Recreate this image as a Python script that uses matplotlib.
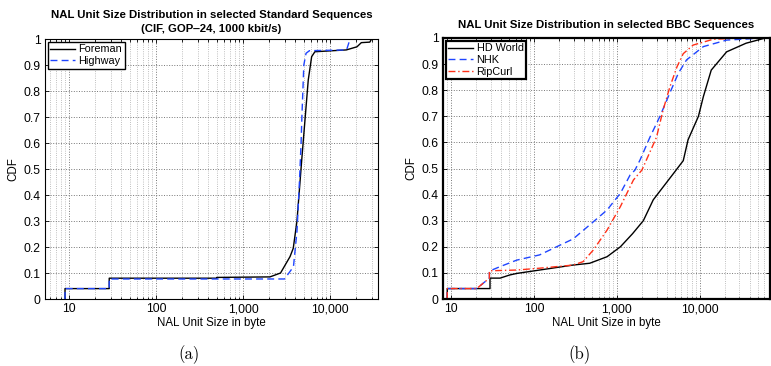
import matplotlib
matplotlib.use("Agg")
import matplotlib.pyplot as plt
from matplotlib.ticker import FixedLocator, FixedFormatter, LogLocator, NullFormatter

plt.rcParams['font.family'] = ['Liberation Sans', 'DejaVu Sans']

# ---- data (a) standard sequences ----
foreman_x = [9, 9, 29, 29, 500, 500, 2040, 2700, 3470, 3780, 4170, 4730, 5620, 6150, 6700, 15400, 20400, 22900, 28700, 30000, 35600]
foreman_y = [0, 0.04, 0.04, 0.08, 0.08, 0.083, 0.085, 0.10, 0.163, 0.195, 0.30, 0.535, 0.842, 0.932, 0.951, 0.958, 0.97, 0.986, 0.988, 1.0, 1.0]
highway_x = [9, 9, 29, 29, 3000, 3800, 4170, 4450, 4650, 4750, 5000, 5300, 5800, 15500, 17000, 35600]
highway_y = [0, 0.04, 0.04, 0.077, 0.077, 0.124, 0.26, 0.45, 0.60, 0.70, 0.90, 0.945, 0.955, 0.958, 1.0, 1.0]

# ---- data (b) BBC sequences ----
hdworld_x = [9, 9, 29.5, 29.5, 39, 51, 62, 117, 295, 470, 760, 1100, 1540, 2080, 2740, 4780, 6300, 7200, 9600, 11000, 13700, 21000, 36000, 60000, 70000]
hdworld_y = [0, 0.04, 0.04, 0.08, 0.08, 0.092, 0.098, 0.111, 0.13, 0.137, 0.162, 0.20, 0.25, 0.30, 0.38, 0.48, 0.53, 0.61, 0.70, 0.775, 0.877, 0.947, 0.98, 0.999, 1.0]
nhk_x = [9, 9, 20.4, 29, 29, 39, 62, 117, 187, 296, 470, 760, 1100, 1440, 1650, 1900, 2500, 3300, 4350, 5500, 6900, 11000, 21000, 52000, 70000]
nhk_y = [0, 0.04, 0.04, 0.08, 0.107, 0.124, 0.149, 0.169, 0.20, 0.23, 0.284, 0.341, 0.405, 0.475, 0.494, 0.533, 0.62, 0.70, 0.79, 0.865, 0.916, 0.967, 0.992, 0.999, 1.0]
ripcurl_x = [9, 9, 20.4, 29, 29, 62, 117, 296, 390, 520, 760, 1100, 1580, 2000, 3000, 3600, 4350, 5300, 6300, 8300, 14400, 30000, 70000]
ripcurl_y = [0, 0.04, 0.04, 0.08, 0.108, 0.111, 0.118, 0.13, 0.143, 0.188, 0.264, 0.354, 0.456, 0.494, 0.62, 0.724, 0.813, 0.89, 0.94, 0.973, 0.995, 1.0, 1.0]

xtick_vals = [10, 100, 1000, 10000]
xtick_labels = ["10", "100", "1,000", "10,000"]
ytick_vals = [0, 0.1, 0.2, 0.3, 0.4, 0.5, 0.6, 0.7, 0.8, 0.9, 1.0]
ytick_labels = ["0", "0.1", "0.2", "0.3", "0.4", "0.5", "0.6", "0.7", "0.8", "0.9", "1"]

BLUE = '#1f45ff'
RED = '#ff3018'

W, H = 771, 366
fig = plt.figure(figsize=(W / 100, H / 100), dpi=100)

def px_axes(l, t, r, b):
    return fig.add_axes([l / W, 1 - b / H, (r - l) / W, (b - t) / H])

ax1 = px_axes(45, 39, 378, 299)
ax2 = px_axes(443, 38, 770, 299)

def style(ax, xlim, spine_lw):
    ax.set_xscale('log')
    ax.set_xlim(*xlim)
    ax.set_ylim(0, 1)
    ax.xaxis.set_major_locator(FixedLocator(xtick_vals))
    ax.xaxis.set_major_formatter(FixedFormatter(xtick_labels))
    ax.xaxis.set_minor_locator(LogLocator(base=10, subs=range(2, 10), numticks=20))
    ax.xaxis.set_minor_formatter(NullFormatter())
    ax.yaxis.set_major_locator(FixedLocator(ytick_vals))
    ax.yaxis.set_major_formatter(FixedFormatter(ytick_labels))
    ax.tick_params(which='both', direction='in', top=True, right=True, labelsize=8.7, width=0.6)
    ax.tick_params(which='major', length=3, pad=3)
    ax.tick_params(which='minor', length=1.8)
    ax.grid(True, which='major', linestyle=':', color='#777777', linewidth=0.7)
    ax.grid(True, which='minor', axis='x', linestyle=':', color='#aaaaaa', linewidth=0.6)
    for s in ax.spines.values():
        s.set_linewidth(spine_lw)
    ax.set_xlabel('NAL Unit Size in byte', fontsize=8.3, labelpad=1)
    ax.set_ylabel('CDF', fontsize=8.3, labelpad=3)

style(ax1, (5.3, 35600), 0.8)
style(ax2, (8, 70000), 1.6)

leg_kw = dict(loc='upper left', fontsize=7.8, fancybox=False, framealpha=1, edgecolor='black',
              handlelength=2.3, handletextpad=0.3, borderpad=0.25, labelspacing=0.15,
              borderaxespad=0.25)

ax1.plot(foreman_x, foreman_y, color='black', lw=1.0, label='Foreman')
ax1.plot(highway_x, highway_y, color=BLUE, lw=1.0, ls=(0, (5, 3)), label='Highway')
ax1.set_title('NAL Unit Size Distribution in selected Standard Sequences\n(CIF, GOP\u201224, 1000 kbit/s)',
              fontsize=8.2, fontweight='bold', pad=5, linespacing=1.45)
leg1 = ax1.legend(**leg_kw)
leg1.get_frame().set_linewidth(1.0)

ax2.plot(hdworld_x, hdworld_y, color='black', lw=1.0, label='HD World')
ax2.plot(nhk_x, nhk_y, color=BLUE, lw=1.0, ls=(0, (5, 3)), label='NHK')
ax2.plot(ripcurl_x, ripcurl_y, color=RED, lw=1.0, ls=(0, (5, 2, 1, 2)), label='RipCurl')
ax2.set_title('NAL Unit Size Distribution in selected BBC Sequences', fontsize=8.2, fontweight='bold', pad=7)
leg2 = ax2.legend(**leg_kw)
leg2.get_frame().set_linewidth(1.6)

fig.text(189 / W, 1 - 355 / H, '(a)', fontsize=12, family='cmr10', ha='center', va='center')
fig.text(580 / W, 1 - 355 / H, '(b)', fontsize=12, family='cmr10', ha='center', va='center')

fig.savefig('out.png', dpi=100)
